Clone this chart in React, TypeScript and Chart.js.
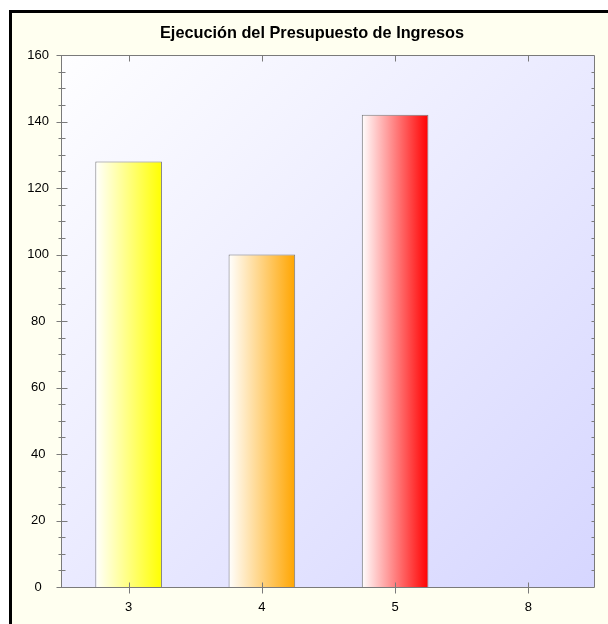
import React, { useEffect, useRef } from "react";
import { Chart, registerables } from "chart.js";

Chart.register(...registerables);

const title = "Ejecución del Presupuesto de Ingresos";
const categories = ["3", "4", "5", "8"];
const values = [128, 100, 142, 0];
const barColors = ["#FFFF00", "#FFA500", "#FF0000", "#00C000"];
const yMin = 0;
const yMax = 160;
const yStep = 20;
const yMinorStep = 5;

const FONT = "'Liberation Sans', Arial, Helvetica, sans-serif";
const AXIS_COLOR = "#7a7a7a";

const framePlugin = {
  id: "framePlugin",
  beforeDraw(chart: any) {
    const { ctx, width, height, chartArea: a } = chart;
    ctx.save();
    ctx.fillStyle = "#ffffff";
    ctx.fillRect(0, 0, width, height);
    ctx.fillStyle = "#FFFFF0";
    ctx.fillRect(9, 10, width - 9, height - 10);
    ctx.fillStyle = "#000000";
    ctx.fillRect(9, 10, width - 9, 3);
    ctx.fillRect(9, 10, 3, height - 10);
    const g = ctx.createLinearGradient(a.left, a.top, a.right, a.bottom);
    g.addColorStop(0, "#FEFEFF");
    g.addColorStop(1, "#D6D6FF");
    ctx.fillStyle = g;
    ctx.fillRect(a.left, a.top, a.right - a.left, a.bottom - a.top);
    ctx.fillStyle = "#000000";
    ctx.font = "bold 16.3px " + FONT;
    ctx.textAlign = "center";
    ctx.textBaseline = "alphabetic";
    ctx.fillText(title, 312, 38);
    ctx.restore();
  },
  afterDatasetsDraw(chart: any) {
    const { ctx, chartArea: a, scales } = chart;
    const ys = scales.y;
    const xs = scales.x;
    ctx.save();
    ctx.strokeStyle = AXIS_COLOR;
    ctx.lineWidth = 1;
    const L = a.left - 0.5;
    const R = a.right - 0.5;
    const T = a.top + 0.5;
    const B = a.bottom + 0.5;
    ctx.beginPath();
    ctx.moveTo(L, T);
    ctx.lineTo(R, T);
    ctx.lineTo(R, B);
    ctx.lineTo(L, B);
    ctx.closePath();
    ctx.stroke();
    ctx.beginPath();
    for (let v = yMin; v <= yMax; v += yMinorStep) {
      const p = Math.round(ys.getPixelForValue(v)) + 0.5;
      const major = v % yStep === 0;
      if (major) {
        ctx.moveTo(L - 5, p);
        ctx.lineTo(L + 6, p);
      } else {
        ctx.moveTo(L - 3, p);
        ctx.lineTo(L + 4, p);
      }
      if (v !== yMin && v !== yMax) {
        ctx.moveTo(R - 3, p);
        ctx.lineTo(R, p);
      }
    }
    for (let i = 0; i < categories.length; i++) {
      const px = Math.round(xs.getPixelForValue(i)) + 0.5;
      ctx.moveTo(px, T);
      ctx.lineTo(px, T + 6);
      ctx.moveTo(px, B - 5);
      ctx.lineTo(px, B + 6);
    }
    ctx.stroke();
    ctx.restore();
  },
};

export default function App() {
  const ref = useRef<HTMLCanvasElement | null>(null);
  useEffect(() => {
    document.body.style.margin = "0";
    const canvas = ref.current;
    if (!canvas) return;
    const chart = new Chart(canvas, {
      type: "bar",
      data: {
        labels: categories,
        datasets: [
          {
            data: values,
            backgroundColor: (c: any) => {
              const ch = c.chart;
              const xs = ch.scales && ch.scales.x;
              const idx = c.dataIndex ?? 0;
              if (!ch.chartArea || !xs) return barColors[idx];
              const cx = xs.getPixelForValue(idx);
              const half = ((xs.width / categories.length) * 0.5) / 2;
              const g = ch.ctx.createLinearGradient(cx - half, 0, cx + half, 0);
              g.addColorStop(0, "#FFFFFF");
              g.addColorStop(1, barColors[idx]);
              return g;
            },
            borderColor: "#7a7a7a",
            borderWidth: 1,
            barPercentage: 0.5,
            categoryPercentage: 1,
          },
        ],
      },
      options: {
        responsive: false,
        animation: false,
        devicePixelRatio: 1,
        layout: { padding: { left: 0, top: 55, right: 13, bottom: 0 } },
        plugins: {
          legend: { display: false },
          title: { display: false },
          tooltip: { enabled: false },
        },
        scales: {
          x: {
            grid: { display: false },
            border: { display: false },
            ticks: {
              color: "#000",
              font: { family: FONT, size: 13 },
              padding: 4.5,
            },
            afterFit: (s: any) => {
              s.height = 37;
            },
          },
          y: {
            min: yMin,
            max: yMax,
            grid: { display: false },
            border: { display: false },
            ticks: {
              stepSize: yStep,
              color: "#000",
              font: { family: FONT, size: 13 },
              padding: 5,
              crossAlign: "center",
            },
            afterFit: (s: any) => {
              s.width = 62;
            },
          },
        },
      },
      plugins: [framePlugin],
    });
    return () => chart.destroy();
  }, []);
  return <canvas ref={ref} width={608} height={624} style={{ display: "block" }} />;
}
